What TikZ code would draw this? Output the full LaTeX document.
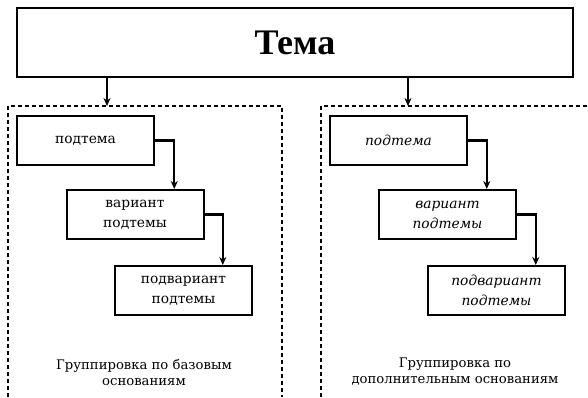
\documentclass[tikz,border=0pt]{standalone}
\usepackage{fontspec}
\setmainfont{DejaVu Serif}
\newfontfamily\temafont{Liberation Serif}
\usetikzlibrary{arrows.meta,shapes}
\tikzstyle{tbox}=[rectangle,draw=black!100,line width=2pt,minimum width=137pt,minimum height=49pt,inner sep=0pt,align=center,font=\fontsize{13.8}{20}\selectfont]
\tikzstyle{dgraph}=[->, line width=2.2pt, >={Stealth[length=8pt,width=7pt]}]
\tikzstyle{grp}=[line width=1.2pt, dash pattern=on 4pt off 3pt]

\begin{document}
\begin{tikzpicture}[x=1pt,y=-1pt]
\useasboundingbox (0,0) rectangle (588,397);
\node[tbox,minimum width=556pt,minimum height=69pt,font=\temafont\bfseries\fontsize{36}{40}\selectfont] (tema) at (295,42.5) {Тема};
% groups
\draw[grp] (8,397) -- (8,106) -- (282,106) -- (282,397);
\draw[grp] (321,397) -- (321,106) -- (588,106);
\coordinate (gb) at (107,106);
\coordinate (gd) at (408,106);
\draw[dgraph] (tema.south -| gb) -- (gb);
\draw[dgraph] (tema.south -| gd) -- (gd);
% base
\node[tbox] (b1) at (85.5,140.5) {подтема};
\node[tbox] (b2) at (135,214.5) {вариант\\подтемы};
\node[tbox] (b3) at (183.5,290.5) {подвариант\\подтемы};
\draw[dgraph](b1.east) -| (b2.33);\draw[dgraph](b2.east) -| (b3.33);
% additional
\node[tbox,font=\itshape\fontsize{13.8}{20}\selectfont] (d1) at (398.5,140.5) {подтема};
\node[tbox,font=\itshape\fontsize{13.8}{20}\selectfont] (d2) at (447.5,214.5) {вариант\\подтемы};
\node[tbox,font=\itshape\fontsize{13.8}{20}\selectfont] (d3) at (496.5,290.5) {подвариант\\подтемы};
\draw[dgraph](d1.east) -| (d2.33);\draw[dgraph](d2.east) -| (d3.33);
\node[align=center,font=\fontsize{13.2}{16}\selectfont] (lb) at (144,372) {Группировка по базовым\\основаниям};
\node[align=center,font=\fontsize{13.2}{16}\selectfont] (ld) at (455,372) {Группировка по\\дополнительным основаниям};
\end{tikzpicture}
\end{document}
